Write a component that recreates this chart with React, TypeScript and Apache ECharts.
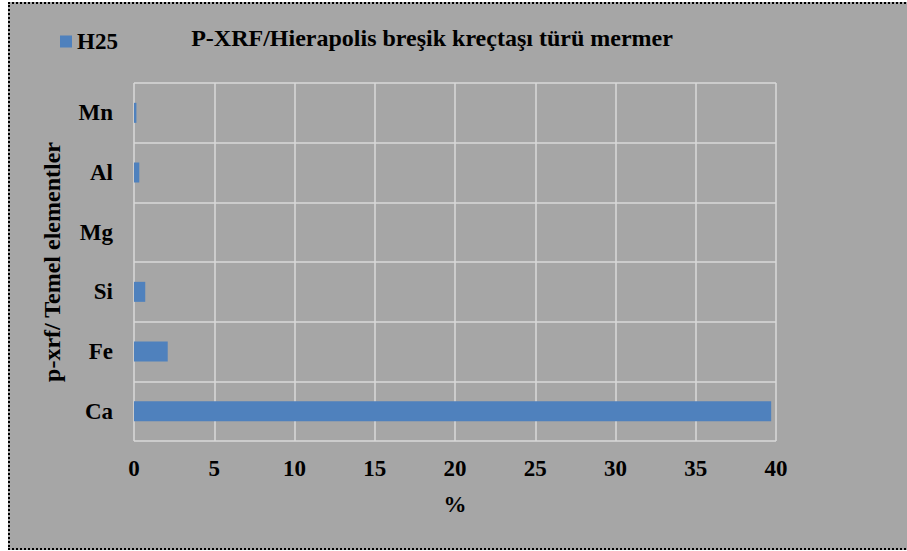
import React, { useEffect, useRef } from "react";
import * as echarts from "echarts";

const categories = ["Ca", "Fe", "Si", "Mg", "Al", "Mn"];
const h25Values = [39.7, 2.1, 0.7, 0, 0.33, 0.15];
const seriesName = "H25";
const titleText = "P-XRF/Hierapolis breşik kreçtaşı türü mermer";
const yAxisName = "p-xrf/ Temel elementler";
const xAxisName = "%";

const FONT = "'Liberation Serif', 'Times New Roman', serif";

export default function App() {
  const ref = useRef<HTMLDivElement>(null);
  useEffect(() => {
    if (!ref.current) return;
    const chart = echarts.init(ref.current, undefined, { renderer: "svg" });
    chart.setOption({
      animation: false,
      backgroundColor: "transparent",
      textStyle: { fontFamily: FONT, color: "#000", fontWeight: "bold" },
      title: {
        text: titleText,
        left: 427,
        top: 21,
        textAlign: "center",
        textStyle: { fontFamily: FONT, fontSize: 24, fontWeight: "bold", color: "#000" },
      },
      legend: {
        left: 55,
        top: 25,
        icon: "rect",
        itemWidth: 12,
        itemHeight: 12,
        itemGap: 5,
        data: [seriesName],
        textStyle: { fontFamily: FONT, fontSize: 23, fontWeight: "bold", color: "#000", padding: [0, 0, 0, 0] },
      },
      grid: { left: 134, top: 83, right: 131, bottom: 110, containLabel: false },
      xAxis: {
        type: "value",
        min: 0,
        max: 40,
        interval: 5,
        name: xAxisName,
        nameLocation: "middle",
        nameGap: 52,
        nameTextStyle: { fontFamily: FONT, fontSize: 23, fontWeight: "bold", color: "#000" },
        axisLine: { show: false },
        axisTick: { show: false },
        axisLabel: { fontFamily: FONT, fontSize: 23, fontWeight: "bold", color: "#000", margin: 16 },
        splitLine: { show: true, lineStyle: { color: "#D9D9D9", width: 1.5 } },
      },
      yAxis: {
        type: "category",
        data: categories,
        name: yAxisName,
        nameLocation: "middle",
        nameGap: 70,
        nameTextStyle: { fontFamily: FONT, fontSize: 24, fontWeight: "bold", color: "#000" },
        axisLine: { show: false },
        axisTick: { show: false },
        axisLabel: { fontFamily: FONT, fontSize: 23, fontWeight: "bold", color: "#000", margin: 21 },
        splitLine: { show: true, lineStyle: { color: "#D9D9D9", width: 1.5 } },
      },
      series: [
        {
          name: seriesName,
          type: "bar",
          data: h25Values,
          barWidth: 20,
          itemStyle: { color: "#4F81BD" },
        },
      ],
    });
    return () => chart.dispose();
  }, []);
  return (
    <>
      <div
        style={{
          position: "fixed",
          left: 8,
          top: 2,
          width: 910,
          height: 548,
          boxSizing: "border-box",
          border: "2px dotted #000",
          background: "#A6A6A6",
        }}
      />
      <div
        ref={ref}
        style={{ position: "fixed", left: 0, top: 0, width: 907, height: 551 }}
      />
    </>
  );
}
